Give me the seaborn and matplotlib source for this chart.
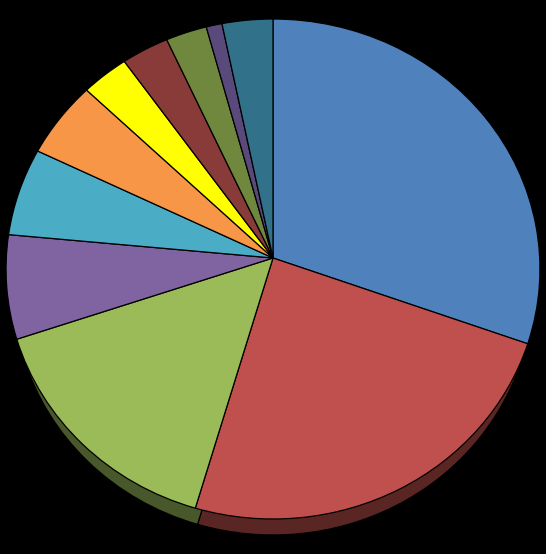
import numpy as np
import seaborn as sns
import matplotlib.pyplot as plt
from matplotlib.transforms import Transform

# percent share of each slice, clockwise from 12 o'clock
valori = [30.5, 24.0, 15.3, 6.7, 5.7, 5.0, 3.0, 3.0, 2.6, 1.0, 3.2]
colori = ['#4f81bd', '#c0504d', '#9bbb59', '#8064a2', '#4bacc6', '#f79646',
          '#ffff00', '#893b39', '#6f883e', '#5a4a7c', '#31718a']


class Prospettiva(Transform):
    # tilted disc: far side is foreshortened, so the apex sits above the ellipse centre
    input_dims = 2
    output_dims = 2

    def __init__(self, cx, cy, ax_, ay_, k=0.044):
        super().__init__()
        self.cx, self.cy, self.ax_, self.ay_, self.k = cx, cy, ax_, ay_, k

    def transform_non_affine(self, xy):
        xy = np.asarray(xy, dtype=float)
        d = 1 + self.k * xy[:, 1]
        return np.column_stack((self.cx + self.ax_ * xy[:, 0] / d,
                                self.cy - self.ay_ * xy[:, 1] / d))


sns.set_theme(style='white')
palette = sns.color_palette(colori)

fig = plt.figure(figsize=(5.46, 5.54), dpi=100, facecolor='black')
ax = fig.add_axes([0, 0, 1, 1])


def disegna_torta(cols, trasf, z):
    wedges, _ = ax.pie(valori, colors=cols, startangle=90, counterclock=False,
                       wedgeprops={'edgecolor': 'black', 'linewidth': 0.9})
    for w in wedges:
        w.set_transform(trasf + ax.transData)
        w.set_clip_on(False)
        w.set_zorder(z)


# --- lower disc (side wall), then the top face ---
lati = [tuple(c * 0.47 for c in col) for col in palette]
disegna_torta(lati, Prospettiva(273, 279.2, 259.0, 244.5), 1)
disegna_torta(palette, Prospettiva(273, 258, 266.7, 249.5), 2)

ax.set_xlim(0, 546)
ax.set_ylim(554, 0)
ax.axis('off')

plt.savefig('out.png', dpi=100, facecolor='black')
